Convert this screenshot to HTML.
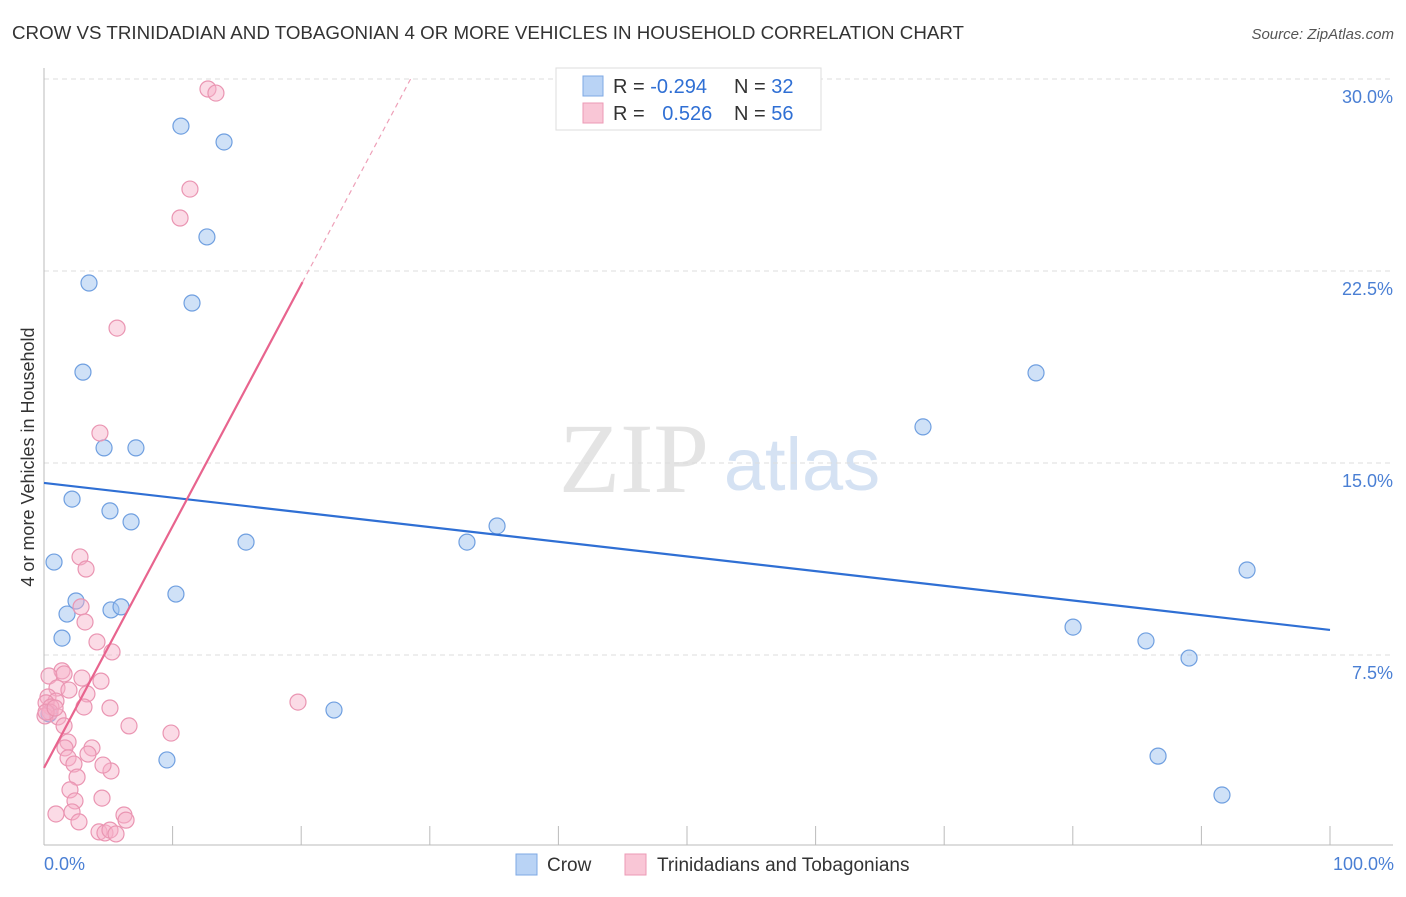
<!DOCTYPE html>
<html><head><meta charset="utf-8"><style>
body{margin:0;background:#fff;font-family:"Liberation Sans",sans-serif;}
svg text{font-family:"Liberation Sans",sans-serif;}
</style></head><body>
<svg id="chart" width="1406" height="892">
<text x="12" y="39" font-size="18" fill="#333" textLength="952" lengthAdjust="spacingAndGlyphs">CROW VS TRINIDADIAN AND TOBAGONIAN 4 OR MORE VEHICLES IN HOUSEHOLD CORRELATION CHART</text>
<text x="1394" y="39" font-size="15" fill="#555" text-anchor="end" font-style="italic">Source: ZipAtlas.com</text>
<text x="634" y="492" font-size="100" fill="#e4e4e4" font-family="Liberation Serif" text-anchor="middle" style="font-family:'Liberation Serif',serif">ZIP</text>
<text x="802" y="490" font-size="74" fill="#d5e2f3" text-anchor="middle">atlas</text>
<g id="grid"></g><g id="axes"></g><g id="marks"></g>
<text transform="translate(34,457) rotate(-90)" font-size="18" fill="#333" text-anchor="middle">4 or more Vehicles in Household</text>
<text x="44" y="870" font-size="18" fill="#4a7fd4">0.0%</text>
<text x="1394" y="870" font-size="18" fill="#4a7fd4" text-anchor="end">100.0%</text>
<g>
<rect x="556" y="68" width="265" height="62" fill="#fff" stroke="#ddd"/>
<rect x="583" y="76" width="20" height="20" fill="#b9d3f5" stroke="#7ea8e4"/>
<rect x="583" y="103" width="20" height="20" fill="#f9c6d6" stroke="#ec9ab5"/>
<text x="613" y="93" font-size="20" fill="#333">R = <tspan fill="#2f6fd4">-0.294</tspan></text>
<text x="734" y="93" font-size="20" fill="#333">N = <tspan fill="#2f6fd4">32</tspan></text>
<text x="613" y="120" font-size="20" fill="#333">R = <tspan fill="#2f6fd4" dx="12">0.526</tspan></text>
<text x="734" y="120" font-size="20" fill="#333">N = <tspan fill="#2f6fd4">56</tspan></text>
</g>
<g>
<rect x="516" y="854" width="21" height="21" fill="#b9d3f5" stroke="#7ea8e4"/>
<text x="547" y="871" font-size="19" fill="#333">Crow</text>
<rect x="625" y="854" width="21" height="21" fill="#f9c6d6" stroke="#ec9ab5"/>
<text x="657" y="871" font-size="19" fill="#333">Trinidadians and Tobagonians</text>
</g>
</svg>
<script>
const yTicks=[7.5,15,22.5,30];
const yTickLabels=["7.5%","15.0%","22.5%","30.0%"];
const xTicks=[0,10,20,30,40,50,60,70,80,90,100];
const crowX=[10.65,14.0,12.67,3.5,11.51,3.03,4.67,7.15,2.18,5.13,6.77,0.78,15.71,2.49,1.79,5.21,5.99,10.26,1.4,22.55,9.56,32.89,35.23,68.35,77.14,80.02,85.69,89.04,93.55,86.63,91.6,0.39];
const crowY=[28.16,27.54,23.83,22.03,21.25,18.55,15.59,15.59,13.59,13.13,12.7,11.13,11.91,9.61,9.1,9.26,9.38,9.88,8.16,5.35,3.4,11.91,12.54,16.41,18.52,8.59,8.05,7.38,10.82,3.55,2.03,5.2];
const tntX=[12.75,13.37,11.35,10.58,5.68,4.35,2.8,3.27,2.88,3.19,4.12,5.29,1.4,0.39,1.56,4.43,2.95,1.01,1.94,3.34,0.31,0.93,0.16,0.54,3.11,5.13,0.47,0.08,1.09,1.56,6.61,9.88,1.87,1.63,3.73,3.42,1.87,2.33,5.21,2.57,2.02,4.51,2.41,0.93,2.18,2.72,6.22,6.38,4.28,4.74,5.13,5.6,19.75,0.16,4.59,0.86];
const tntY=[29.61,29.45,25.7,24.57,20.27,16.17,11.33,10.86,9.38,8.79,8.01,7.62,6.88,6.68,6.76,6.48,6.6,6.21,6.13,5.98,5.86,5.7,5.63,5.47,5.47,5.43,5.27,5.12,5.08,4.73,4.73,4.45,4.1,3.87,3.87,3.63,3.48,3.24,2.97,2.73,2.23,1.91,1.8,1.29,1.37,0.98,1.25,1.05,0.59,0.55,0.66,0.51,5.66,5.27,3.2,5.43];
const crowTrend=[14.22,8.48];
const tntTrend=[3.09,0.944];
const X=v=>44+v*12.86, Y=v=>847-v*25.6;
const NS="http://www.w3.org/2000/svg";
function mk(tag,attrs,parent){const e=document.createElementNS(NS,tag);for(const k in attrs)e.setAttribute(k,attrs[k]);document.getElementById(parent).appendChild(e);return e;}
yTicks.forEach((t,i)=>{
 const l=mk('line',{x1:44,x2:1393,y1:Y(t),y2:Y(t),stroke:'#ddd','stroke-dasharray':'5,4'},'grid');
 
 
 const tx=mk('text',{x:1393,y:Y(t)+24,'font-size':18,fill:'#4a7fd4','text-anchor':'end'},'grid');
 tx.textContent=yTickLabels[i];
 
 
});
const ax=mk('line',{x1:44,x2:44,y1:68,y2:845,stroke:'#bbb'},'axes');


const bx=mk('line',{x1:44,x2:1393,y1:845,y2:845,stroke:'#bbb'},'axes');


xTicks.forEach(t=>{
 const l=mk('line',{x1:X(t),x2:X(t),y1:826,y2:845,stroke:'#bbb'},'axes');
 
 
});
crowX.forEach((x,i)=>{
 const c=mk('circle',{cx:X(x),cy:Y(crowY[i]),r:8,fill:'rgba(160,196,240,0.5)',stroke:'#6f9fe0','stroke-width':1.2},'marks');
 
 
});
tntX.forEach((x,i)=>{
 const c=mk('circle',{cx:X(x),cy:Y(tntY[i]),r:8,fill:'rgba(246,176,200,0.45)',stroke:'#ea95b2','stroke-width':1.2},'marks');
 
 
});
const cl=mk('line',{x1:X(0),y1:Y(crowTrend[0]),x2:X(100),y2:Y(crowTrend[1]),stroke:'#2f6fd4','stroke-width':2.2},'marks');


const xs=20.1, xe=(30-tntTrend[0])/tntTrend[1];
const pl=mk('line',{x1:X(0),y1:Y(tntTrend[0]),x2:X(xs),y2:Y(tntTrend[0]+tntTrend[1]*xs),stroke:'#e8648e','stroke-width':2.2},'marks');


const pd=mk('line',{x1:X(xs),y1:Y(tntTrend[0]+tntTrend[1]*xs),x2:X(xe),y2:Y(30),stroke:'#eea0b8','stroke-width':1.2,'stroke-dasharray':'5,4'},'marks');


</script>
</body></html>
